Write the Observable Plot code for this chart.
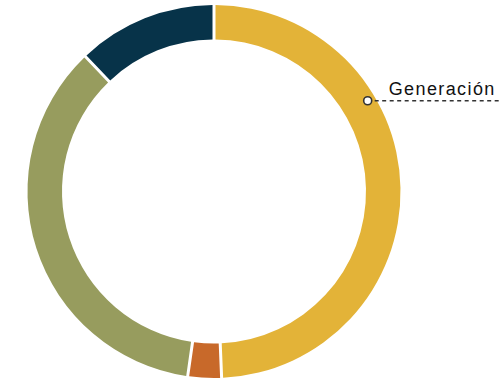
<!DOCTYPE html>
<html><head><meta charset="utf-8">
<script src="https://cdn.jsdelivr.net/npm/d3@7"></script>
<script src="https://cdn.jsdelivr.net/npm/@observablehq/plot@0.6"></script>
<style>html,body{margin:0;padding:0;background:#fff;} #chart svg text{letter-spacing:1.4px;}</style>
</head><body><div id="chart"></div>
<script>
// Data
const categories = ["Generación", "Transmisión", "Distribución", "Comercialización"];
const values = [49.3, 2.9, 35.6, 12.1];
const colors = ["#E3B338", "#C8692A", "#979C5E", "#073349"];
const labeledCategories = ["Generación"];

// Layout (pixel-like units centred on the donut)
const W = 499, H = 385;
const outerR = 186.5, innerR = 152, gap = 3, labelR = 178.3, labelFraction = 1 / 3;

const data = categories.map((c, i) => ({category: c, value: values[i]}));
const arcs = d3.pie().sort(null).value(d => d.value)(data);
const colorOf = d3.scaleOrdinal(categories, colors);

const labelPoints = arcs.filter(a => labeledCategories.includes(a.data.category)).map(a => {
  const ang = a.startAngle + (a.endAngle - a.startAngle) * labelFraction;
  return {label: a.data.category, x: labelR * Math.sin(ang), y: labelR * Math.cos(ang)};
});

function donut(index, scales) {
  const sx = scales.x, sy = scales.y;
  const x0 = sx(0), y0 = sy(0), k = sx(1) - sx(0);
  const arc = d3.arc()
    .innerRadius(innerR * k).outerRadius(outerR * k)
    .padAngle(gap / outerR).padRadius(outerR * k);
  const g = d3.create("svg:g").attr("transform", `translate(${x0},${y0})`);
  g.selectAll("path").data(arcs).join("path")
    .attr("d", arc)
    .attr("fill", d => colorOf(d.data.category));
  return g.node();
}

const xMin = -214, xMax = W - 214, yMax = 191.5, yMin = 191.5 - H;

const chart = Plot.plot({
  width: W, height: H,
  margin: 0,
  x: {domain: [xMin, xMax], axis: null},
  y: {domain: [yMin, yMax], axis: null},
  style: {background: "#fff", overflow: "visible"},
  marks: [
    donut,
    Plot.ruleY(labelPoints, {y: "y", x1: "x", x2: xMax, stroke: "#333", strokeWidth: 1.5, strokeDasharray: "4,3.5"}),
    Plot.dot(labelPoints, {x: "x", y: "y", r: 4, fill: "#fff", stroke: "#333", strokeWidth: 1.6}),
    Plot.text(labelPoints, {x: "x", y: "y", text: "label", dx: 21, dy: -12, textAnchor: "start",
      fontSize: 18, fontFamily: "Liberation Sans, Arial, sans-serif", fill: "#111"})
  ]
});
document.getElementById("chart").appendChild(chart);
</script>
</body></html>
